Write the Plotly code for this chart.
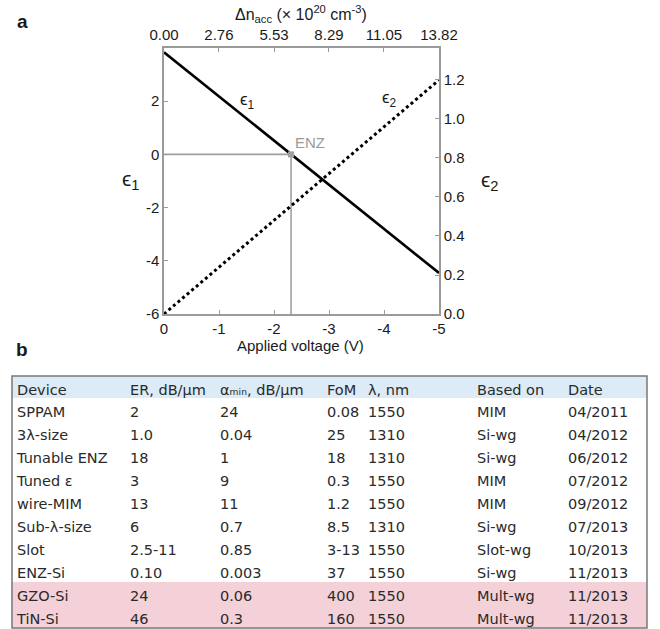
import plotly.graph_objects as go

# ---- panel a: permittivity vs applied voltage ----
voltage = [0.0, -5.0]
eps1 = [3.84, -4.46]          # real part, left axis
eps2 = [0.0, 1.2]             # imaginary part, right axis
dn_range = [0.0, 13.82]       # accumulated carrier density (top axis)
dn_ticks = [0.00, 2.76, 5.53, 8.29, 11.05, 13.82]
v_ticks = [0, -1, -2, -3, -4, -5]
eps1_ticks = [-6, -4, -2, 0, 2]
eps2_ticks = [0.0, 0.2, 0.4, 0.6, 0.8, 1.0, 1.2]
enz_voltage = -2.31
enz_eps1 = 0.0
eps1_floor = -6

# ---- panel b: comparison table ----
col_headers = ["Device", "ER, dB/μm", "αₘᵢₙ, dB/μm", "FoM", "λ, nm", "Based on", "Date"]
device = ["SPPAM", "3λ-size", "Tunable ENZ", "Tuned ε", "wire-MIM", "Sub-λ-size", "Slot", "ENZ-Si", "GZO-Si", "TiN-Si"]
er = ["2", "1.0", "18", "3", "13", "6", "2.5-11", "0.10", "24", "46"]
alpha_min = ["24", "0.04", "1", "9", "11", "0.7", "0.85", "0.003", "0.06", "0.3"]
fom = ["0.08", "25", "18", "0.3", "1.2", "8.5", "3-13", "37", "400", "160"]
wavelength = ["1550", "1310", "1310", "1550", "1550", "1310", "1550", "1550", "1550", "1550"]
based_on = ["MIM", "Si-wg", "Si-wg", "MIM", "MIM", "Si-wg", "Slot-wg", "Si-wg", "Mult-wg", "Mult-wg"]
date = ["04/2011", "04/2012", "06/2012", "07/2012", "09/2012", "07/2013", "10/2013", "11/2013", "11/2013", "11/2013"]
highlighted = ["GZO-Si", "TiN-Si"]

W, H = 660, 629
def fx(px):
    return px / W
def fy(py):
    return 1 - py / H

AX = "#9a9a9a"
TXT = "#1a1a1a"
CHART_FONT = "Liberation Sans, Arial, sans-serif"
TABLE_FONT = "DejaVu Sans, Verdana, sans-serif"

fig = go.Figure()

# ENZ guide lines
fig.add_trace(go.Scatter(
    x=[0, enz_voltage, enz_voltage], y=[enz_eps1, enz_eps1, eps1_floor],
    mode="lines", line=dict(color="#a0a0a0", width=1.6),
    xaxis="x", yaxis="y", hoverinfo="skip", showlegend=False))

fig.add_trace(go.Scatter(
    x=voltage, y=eps2, mode="lines",
    line=dict(color="black", width=3, dash="dot"),
    xaxis="x", yaxis="y2", hoverinfo="skip", showlegend=False))

fig.add_trace(go.Scatter(
    x=voltage, y=eps1, mode="lines",
    line=dict(color="black", width=2.6),
    xaxis="x", yaxis="y", hoverinfo="skip", showlegend=False))

fig.add_trace(go.Scatter(
    x=[enz_voltage], y=[enz_eps1], mode="markers",
    marker=dict(color="#a0a0a0", size=6, symbol="square"),
    xaxis="x", yaxis="y", hoverinfo="skip", showlegend=False))

# carries the top carrier-density axis
fig.add_trace(go.Scatter(
    x=dn_range, y=[eps1_floor, eps1_floor], mode="markers",
    marker=dict(opacity=0), xaxis="x2", yaxis="y",
    hoverinfo="skip", showlegend=False))

xdom = [fx(164), fx(439)]
ydom = [fy(314), fy(48)]
tickfont = dict(family=CHART_FONT, size=15, color=TXT)
common = dict(showline=True, linecolor=AX, linewidth=1.5, ticks="inside",
              ticklen=4, tickcolor=AX, showgrid=False, zeroline=False,
              tickfont=tickfont, fixedrange=True, automargin=False)

fig.update_layout(
    width=W, height=H,
    margin=dict(l=0, r=0, t=0, b=0, pad=0, autoexpand=False),
    paper_bgcolor="white", plot_bgcolor="white",
    xaxis=dict(domain=xdom, range=[0, -5], tickvals=v_ticks,
               ticktext=[str(v) for v in v_ticks], anchor="y", **common),
    xaxis2=dict(domain=xdom, range=dn_range, tickvals=dn_ticks,
                ticktext=[f"{v:.2f}" for v in dn_ticks], side="top",
                overlaying="x", anchor="y", **common),
    yaxis=dict(domain=ydom, range=[-6, 4], tickvals=eps1_ticks,
               ticktext=[str(v) for v in eps1_ticks], anchor="x", **common),
    yaxis2=dict(domain=ydom, range=[0, 1.364], tickvals=eps2_ticks,
                ticktext=[f"{v:.1f}" for v in eps2_ticks], side="right",
                overlaying="y", anchor="x", **common),
)

def note(text, x, y, size=15, color=TXT, family=CHART_FONT, **kw):
    fig.add_annotation(text=text, x=fx(x), y=fy(y), xref="paper", yref="paper",
                       xanchor="center", yanchor="middle",
                       showarrow=False, font=dict(family=family, size=size, color=color), **kw)

note("<b>a</b>", 22, 22, size=19, family="Liberation Sans, Arial")
note("<b>b</b>", 22, 350, size=19, family="Liberation Sans, Arial")
note("Δn<sub>acc</sub> (× 10<sup>20</sup> cm<sup>-3</sup>)", 301, 14, size=16)
note("Applied voltage (V)", 300, 345)
note("ϵ<sub>1</sub>", 130, 180, size=21)
note("ϵ<sub>2</sub>", 489, 181, size=21)
note("ϵ<sub>1</sub>", 247, 101, size=17)
note("ϵ<sub>2</sub>", 389, 99, size=17)
note("ENZ", 310, 142, size=15, color="#9a9a9a")

# ---- table ----
def nowrap(items):
    return [s.replace(" ", "\u00a0") for s in items]

columns = [nowrap(c) for c in [device, er, alpha_min, fom, wavelength, based_on, date]]
row_fill = ["#f4d1d8" if d in highlighted else "white" for d in device]
col_w = [113, 90, 107, 41, 109, 91, 87]
fig.add_trace(go.Table(
    domain=dict(x=[fx(9), fx(647)], y=[0, fy(376)]),
    columnwidth=col_w,
    header=dict(values=nowrap(col_headers), align="left", height=22,
                fill_color="#dcebf6", line=dict(width=0),
                font=dict(family=TABLE_FONT, size=14.5, color="#2a2a2a")),
    cells=dict(values=columns, align="left", height=23,
               fill_color=[row_fill] * len(columns), line=dict(width=0),
               font=dict(family=TABLE_FONT, size=14.5, color="#2a2a2a")),
))

# trim the table fill to its frame and draw the frame
fig.add_shape(type="rect", xref="paper", yref="paper", x0=0, x1=fx(11.5),
              y0=0, y1=fy(370), fillcolor="white", line=dict(width=0), layer="above")
fig.add_shape(type="rect", xref="paper", yref="paper", x0=fx(12), x1=fx(647),
              y0=fy(628), y1=fy(376), line=dict(color="#7a7a7a", width=1.5),
              layer="above")

fig.write_html("out.html")
